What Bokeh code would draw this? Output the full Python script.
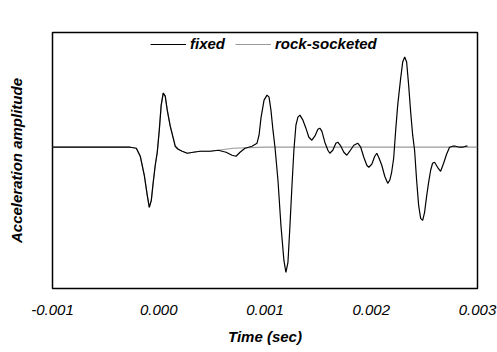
from bokeh.plotting import figure
from bokeh.models import Legend, LegendItem, FixedTicker
from bokeh.embed import file_html
from bokeh.resources import INLINE

# Time values in milliseconds (converted to seconds below)
time_fixed_ms = [-1.000, -0.549, -0.268, -0.211, -0.174, -0.136, -0.108, -0.089, -0.070, -0.052,
                 -0.033, -0.014, 0.005, 0.023, 0.042, 0.061, 0.080, 0.108, 0.127, 0.155,
                 0.183, 0.221, 0.268, 0.324, 0.390, 0.484, 0.559, 0.634, 0.690, 0.728,
                 0.765, 0.812, 0.878, 0.925, 0.944, 0.962, 0.991, 1.019, 1.038, 1.056,
                 1.075, 1.094, 1.122, 1.150, 1.178, 1.197, 1.216, 1.235, 1.254, 1.272,
                 1.291, 1.310, 1.329, 1.357, 1.385, 1.413, 1.441, 1.469, 1.498, 1.516,
                 1.535, 1.563, 1.592, 1.610, 1.638, 1.667, 1.685, 1.714, 1.742, 1.770,
                 1.798, 1.836, 1.873, 1.901, 1.930, 1.958, 1.977, 2.005, 2.033, 2.052,
                 2.070, 2.099, 2.127, 2.155, 2.174, 2.192, 2.211, 2.230, 2.249, 2.277,
                 2.296, 2.315, 2.333, 2.352, 2.371, 2.390, 2.408, 2.427, 2.446, 2.465,
                 2.484, 2.502, 2.521, 2.540, 2.559, 2.577, 2.596, 2.624, 2.653, 2.681,
                 2.709, 2.737, 2.765, 2.793, 2.831, 2.859, 2.887, 2.906]
amp_fixed = [0.00, 0.00, 0.00, -0.01, -0.09, -0.28, -0.48, -0.60, -0.53, -0.35,
             -0.18, -0.05, 0.17, 0.42, 0.54, 0.51, 0.37, 0.21, 0.13, 0.01,
             -0.02, -0.04, -0.06, -0.05, -0.04, -0.04, -0.03, -0.05, -0.08, -0.09,
             -0.05, -0.01, 0.01, 0.04, 0.12, 0.29, 0.47, 0.52, 0.50, 0.37,
             0.17, 0.00, -0.33, -0.78, -1.13, -1.25, -1.15, -0.78, -0.38, -0.03,
             0.22, 0.30, 0.32, 0.27, 0.19, 0.10, 0.07, 0.11, 0.18, 0.19,
             0.16, 0.05, -0.03, -0.06, -0.03, 0.04, 0.05, 0.01, -0.05, -0.08,
             -0.04, 0.02, 0.04, 0.00, -0.10, -0.18, -0.20, -0.17, -0.09, -0.06,
             -0.10, -0.18, -0.29, -0.36, -0.33, -0.25, -0.11, 0.17, 0.42, 0.69,
             0.85, 0.90, 0.85, 0.62, 0.35, 0.12, -0.03, -0.33, -0.58, -0.71,
             -0.73, -0.65, -0.49, -0.35, -0.23, -0.16, -0.15, -0.20, -0.24, -0.16,
             -0.07, 0.00, 0.01, 0.01, 0.00, 0.00, 0.01, 0.01]

time_rock_ms = [-1.000, -0.549, -0.268, -0.211, -0.174, -0.136, -0.108, -0.089, -0.070, -0.052,
                -0.033, -0.014, 0.005, 0.023, 0.042, 0.061, 0.080, 0.108, 0.127, 0.155,
                0.183, 0.221, 0.268, 0.324, 0.390, 0.484, 0.559, 0.700, 1.000, 3.000]
amp_rock = [0.00, 0.00, 0.00, -0.01, -0.09, -0.28, -0.48, -0.60, -0.53, -0.35,
            -0.18, -0.05, 0.17, 0.42, 0.54, 0.51, 0.37, 0.21, 0.13, 0.01,
            -0.02, -0.04, -0.06, -0.05, -0.04, -0.04, -0.03, -0.01, 0.00, 0.00]

x_ticks = [-0.001, 0.0, 0.001, 0.002, 0.003]
x_tick_labels = ["-0.001", "0.000", "0.001", "0.002", "0.003"]

time_fixed = [t * 1e-3 for t in time_fixed_ms]
time_rock = [t * 1e-3 for t in time_rock_ms]

FONT = "Liberation Sans"

p = figure(width=497, height=352,
           x_range=(-0.001, 0.003), y_range=(-1.41, 1.145),
           output_backend="svg", toolbar_location=None,
           min_border_left=52, min_border_right=20, min_border_top=32, min_border_bottom=64)

p.grid.visible = False
p.outline_line_color = "black"
p.outline_line_width = 1.5
p.background_fill_color = "white"
p.border_fill_color = "white"

r_rock = p.line(time_rock, amp_rock, line_color="#9a9a9a", line_width=1.2)
r_fixed = p.line(time_fixed, amp_fixed, line_color="black", line_width=1.2)

# x axis
p.xaxis.ticker = FixedTicker(ticks=x_ticks)
p.xaxis.major_label_overrides = {t: l for t, l in zip(x_ticks, x_tick_labels)}
p.xaxis.axis_line_color = None
p.xaxis.major_tick_line_color = None
p.xaxis.minor_tick_line_color = None
p.xaxis.major_label_text_font = FONT
p.xaxis.major_label_text_font_style = "italic"
p.xaxis.major_label_text_font_size = "15px"
p.xaxis.major_label_text_color = "black"
p.xaxis.major_label_standoff = 10
p.xaxis.axis_label = "Time (sec)"
p.xaxis.axis_label_text_font = FONT
p.xaxis.axis_label_text_font_style = "bold italic"
p.xaxis.axis_label_text_font_size = "15px"
p.xaxis.axis_label_text_color = "black"
p.xaxis.axis_label_standoff = 10

# y axis
p.yaxis.ticker = FixedTicker(ticks=[])
p.yaxis.axis_line_color = None
p.yaxis.major_tick_line_color = None
p.yaxis.minor_tick_line_color = None
p.yaxis.axis_label = "Acceleration amplitude"
p.yaxis.axis_label_text_font = FONT
p.yaxis.axis_label_text_font_style = "bold italic"
p.yaxis.axis_label_text_font_size = "15px"
p.yaxis.axis_label_text_color = "black"
p.yaxis.axis_label_standoff = 28

legend = Legend(items=[LegendItem(label="fixed", renderers=[r_fixed]),
                       LegendItem(label="rock-socketed", renderers=[r_rock])],
                orientation="horizontal", location=(98, 236),
                glyph_width=36, glyph_height=16, label_height=16,
                label_standoff=4, spacing=10, padding=0, margin=0,
                label_text_font=FONT, label_text_font_style="bold italic",
                label_text_font_size="15px", label_text_color="black",
                background_fill_alpha=0, border_line_alpha=0)
p.add_layout(legend)

open("out.html", "w").write(file_html(p, INLINE))
